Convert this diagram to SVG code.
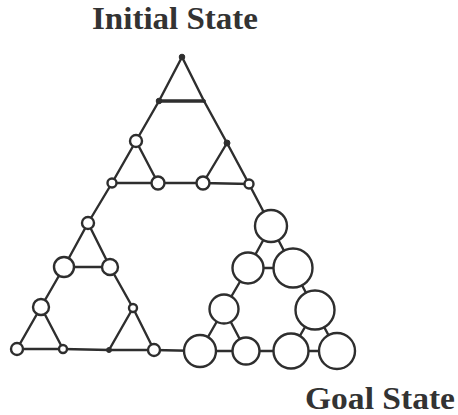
<svg xmlns="http://www.w3.org/2000/svg" width="458" height="415" viewBox="0 0 458 415">
<style>
.e{stroke:#2e2e2e;stroke-width:2.4;fill:none;stroke-linecap:round}
.o{fill:#fff;stroke:#2e2e2e;stroke-width:2.4}
.f{fill:#2e2e2e;stroke:#2e2e2e;stroke-width:1}
.t{font-family:"Liberation Serif","DejaVu Serif",serif;font-weight:bold;font-size:32px;fill:#333}
</style>
<rect width="458" height="415" fill="#fff"/>
<text class="t" x="92" y="29" textLength="166" lengthAdjust="spacingAndGlyphs">Initial State</text>
<text class="t" x="305" y="409" textLength="150" lengthAdjust="spacingAndGlyphs">Goal State</text>
<g id="connectors">
<path class="e" d="M182,57 L159,101 L136,141 L112,183 L158,183 L136,141"/>
<path class="e" d="M182,57 L204,101 L227,143 L249,184 L203,183 L227,143"/>
<path class="e" d="M158,183 L203,183"/>
<path class="e" d="M159,101 L204,101" style="stroke-width:3.4"/>
<path class="e" d="M112,183 L88,223"/>
<path class="e" d="M249,184 L271,226"/>
<path class="e" d="M154,350 L200,351"/>
<path class="e" d="M88,223 L64,267 L41,307 L17,349 L63,349 L41,307"/>
<path class="e" d="M88,223 L110,267 L133,308 L154,350 L109,350 L133,308"/>
<path class="e" d="M64,267 L110,267"/>
<path class="e" d="M63,349 L109,350"/>
<path class="e" d="M271,226 L248,268 L224,309 L200,351 L246,351 L224,309"/>
<path class="e" d="M271,226 L293,268 L315,310 L337,351 L291,351 L315,310"/>
<path class="e" d="M248,268 L293,268"/>
<path class="e" d="M246,351 L291,351"/>
</g>
<g id="a1"><circle class="f" cx="182" cy="57" r="2.8"/></g>
<g id="a2"><circle class="f" cx="159" cy="101" r="2.8"/></g>
<g id="a3"><circle class="f" cx="204" cy="101" r="1.2"/></g>
<g id="a4"><circle class="o" cx="136" cy="141" r="6"/></g>
<g id="a5"><circle class="f" cx="227" cy="143" r="3"/></g>
<g id="a6"><circle class="o" cx="112" cy="183" r="4.5"/></g>
<g id="a7"><circle class="o" cx="158" cy="183" r="6.5"/></g>
<g id="a8"><circle class="o" cx="203" cy="183" r="6.5"/></g>
<g id="a9"><circle class="o" cx="249" cy="184" r="4.5"/></g>
<g id="b1"><circle class="o" cx="88" cy="223" r="6"/></g>
<g id="b2"><circle class="o" cx="64" cy="267" r="10"/></g>
<g id="b3"><circle class="o" cx="110" cy="267" r="8"/></g>
<g id="b4"><circle class="o" cx="41" cy="307" r="8"/></g>
<g id="b5"><circle class="o" cx="133" cy="308" r="4"/></g>
<g id="b6"><circle class="o" cx="17" cy="349" r="6"/></g>
<g id="b7"><circle class="o" cx="63" cy="349" r="4"/></g>
<g id="b8"><circle class="f" cx="109" cy="350" r="2.5"/></g>
<g id="b9"><circle class="o" cx="154" cy="350" r="6"/></g>
<g id="c1"><circle class="o" cx="271" cy="226" r="16"/></g>
<g id="c2"><circle class="o" cx="248" cy="268" r="15.5"/></g>
<g id="c3"><circle class="o" cx="293" cy="268" r="19.5"/></g>
<g id="c4"><circle class="o" cx="224" cy="309" r="14.5"/></g>
<g id="c5"><circle class="o" cx="315" cy="310" r="19.5"/></g>
<g id="c6"><circle class="o" cx="200" cy="351" r="16"/></g>
<g id="c7"><circle class="o" cx="246" cy="351" r="13.5"/></g>
<g id="c8"><circle class="o" cx="291" cy="351" r="17.5"/></g>
<g id="c9"><circle class="o" cx="337" cy="351" r="18"/></g>
</svg>
